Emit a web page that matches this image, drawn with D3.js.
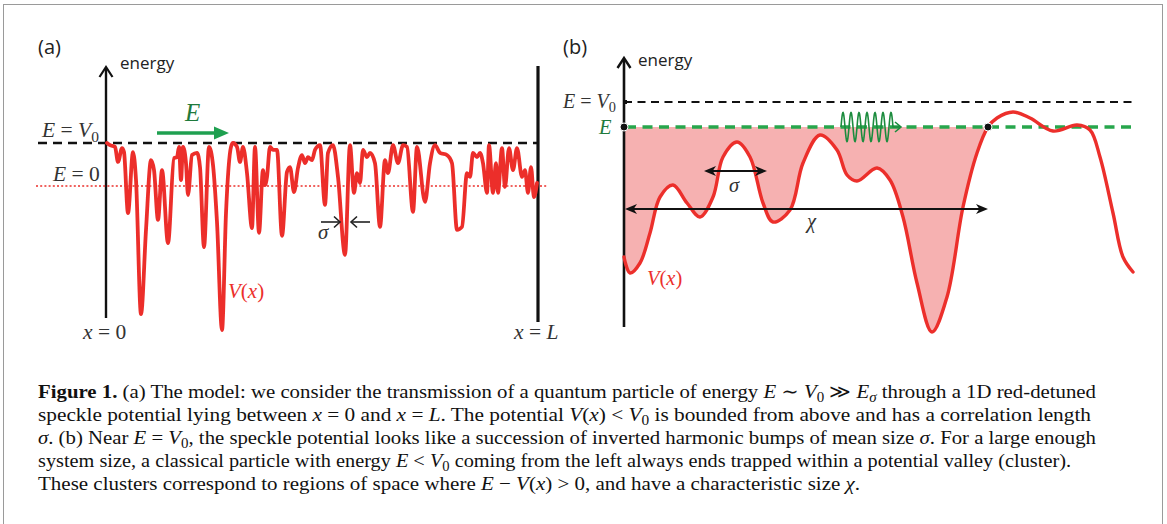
<!DOCTYPE html>
<html>
<head>
<meta charset="utf-8">
<script src="https://cdn.jsdelivr.net/npm/d3@7"></script>
<style>
  html, body { margin: 0; padding: 0; background: #fff; }
  svg { display: block; }
</style>
</head>
<body>
<svg id="fig" width="1167" height="524"></svg>
<script>
// ---- Panel (a): speckle potential V(x) between x = 0 and x = L (energy in units of V0) ----
const specklePos = [1, 4, 9, 12, 16, 18, 22, 27, 30, 35, 40, 45, 48, 52, 56, 62, 68, 71, 73, 75, 77, 80, 82, 86, 91, 94, 98,
  103, 107, 111, 116, 120, 125, 127, 131, 134, 137, 141, 146, 149, 153, 157, 159, 161, 164, 167, 171, 176, 181, 184, 188,
  192, 196, 199, 202, 206, 209, 214, 219, 222, 227, 232, 239, 244, 248, 251, 254, 257, 261, 264, 269, 274, 279, 282, 287,
  292, 297, 301, 307, 311, 319, 324, 329, 334, 341, 346, 351, 356, 361, 364, 367, 371, 374, 377, 381, 383, 387, 390, 392,
  396, 399, 403, 407, 411, 416, 419, 422, 425, 428, 431];
const speckleV = [1.0, 0.95, 0.91, 0.56, 0.88, 0.79, -0.63, 0.79, 0.14, -2.98, -1.02, 0.60, 0.37, -0.79, 0.37, -1.33, 0.65,
  0.67, 0.91, 0.14, 0.91, 0.53, -0.21, 0.72, 0.77, 0.44, -1.42, 0.91, 0.49, -0.84, -3.35, -0.63, 0.91, 1.0, 0.91, 0.56,
  0.91, 0.30, -0.98, 0.91, -1.09, 0.37, 0.02, 0.21, 0.91, 0.84, 0.84, -1.16, 0.33, 0.44, -0.14, 0.42, 0.72, 0.53, 0.67,
  0.60, 0.84, 0.95, -0.44, 0.77, 0.95, 0.21, -1.60, 0.95, -0.16, 0.30, 0.07, 0.84, 0.67, 0.77, 0.53, -0.95, 0.60, 0.30,
  0.95, 0.53, 0.95, 0.91, -0.60, 0.91, -0.37, 0.53, 0.95, 0.77, 0.72, 0.53, -1.02, -0.95, 0.30, 0.21, 0.77, 0.67, 0.77,
  0.53, -0.16, 0.95, -0.16, 0.53, -0.16, 0.88, -0.02, 0.88, 0.37, 0.88, 0.21, 0.37, -0.16, 0.44, -0.26, 0.07];
const systemLength = 432;          // x = L
const levelsA = { V0: 1, zero: 0 };

// ---- Panel (b): zoom near E = V0 (energy measured from E, V0 one unit above) ----
const zoomPos = [0, 6, 16, 26, 36, 49, 63, 76, 89, 99, 113, 126, 139, 149, 166, 179, 196, 213, 223, 233, 253, 266, 279,
  293, 308, 323, 339, 353, 364, 373, 389, 406, 429, 453, 466, 476, 489, 499, 509];
const zoomV = [-5.2, -5.84, -5.44, -4.24, -2.8, -2.32, -3.04, -3.6, -2.8, -1.2, -0.6, -1.2, -3.04, -3.8, -3.32, -1.44,
  -0.32, -0.92, -1.92, -2.16, -1.64, -2.12, -3.6, -6.24, -8.2, -6.8, -3.2, -1.04, 0, 0.36, 0.6, 0.36, -0.16, 0.08, -0.12,
  -1.2, -3.44, -5.2, -5.8];
const levelsB = { V0: 1, E: 0 };
const clusterEnd = 364;            // turning point where V(x) = E
const sigmaSpan = [80, 143];       // width of one bump
const panelBLength = 510;

// ---- Caption ----
const captionLines = [
  [["b", "Figure 1."], ["", " (a) The model: we consider the transmission of a quantum particle of energy "], ["i", "E"], ["", " ∼ "], ["i", "V"], ["sub", "0"], ["", " ≫ "], ["i", "E"], ["isub", "σ"], ["", " through a 1D red-detuned"]],
  [["", "speckle potential lying between "], ["i", "x"], ["", " = 0 and "], ["i", "x"], ["", " = "], ["i", "L"], ["", ". The potential "], ["i", "V"], ["", "("], ["i", "x"], ["", ") < "], ["i", "V"], ["sub", "0"], ["", " is bounded from above and has a correlation length"]],
  [["i", "σ"], ["", ". (b) Near "], ["i", "E"], ["", " = "], ["i", "V"], ["sub", "0"], ["", ", the speckle potential looks like a succession of inverted harmonic bumps of mean size "], ["i", "σ"], ["", ". For a large enough"]],
  [["", "system size, a classical particle with energy "], ["i", "E"], ["", " < "], ["i", "V"], ["sub", "0"], ["", " coming from the left always ends trapped within a potential valley (cluster)."]],
  [["", "These clusters correspond to regions of space where "], ["i", "E"], ["", " − "], ["i", "V"], ["", "("], ["i", "x"], ["", ") > 0, and have a characteristic size "], ["i", "χ"], ["", "."]]
];
const captionWidths = [1058, 1053, 1058, 1033, 822];

const svg = d3.select("#fig");
const RED = "#ec2f2b", GREEN = "#1fa050", DARK = "#111";
const SANS = "'Open Sans', 'Noto Sans', sans-serif";
const SERIF = "'Liberation Serif', 'DejaVu Serif', serif";

// frame
svg.append("rect").attr("x", 3.5).attr("y", 4.5).attr("width", 1159).attr("height", 560)
  .attr("fill", "none").attr("stroke", "#9a9a9a").attr("stroke-width", 1);

const defs = svg.append("defs");
defs.append("filter").attr("id", "soft").append("feGaussianBlur").attr("stdDeviation", 0.45);

// math-style label: parts of [style, text]
function mathLabel(g, x, y, parts, size, color) {
  const t = g.append("text").attr("x", x).attr("y", y).attr("font-family", SERIF)
    .attr("font-size", size).attr("fill", color);
  let shifted = 0;
  parts.forEach(([s, txt]) => {
    const ts = t.append("tspan").text(txt);
    if (s.includes("i")) ts.attr("font-style", "italic");
    if (s === "b") ts.attr("font-weight", "bold");
    if (s.includes("sub")) {
      ts.attr("font-size", size * 0.72).attr("dy", size * 0.22 - shifted);
      shifted = size * 0.22;
    } else if (shifted) {
      ts.attr("dy", -shifted);
      shifted = 0;
    }
  });
  return t;
}

function chevronUp(g, x, y, w, h, sw) {
  g.append("path").attr("d", `M${x - w},${y + h} L${x},${y} L${x + w},${y + h}`)
    .attr("fill", "none").attr("stroke", DARK).attr("stroke-width", sw).attr("stroke-linejoin", "miter");
}

// ================= Panel (a) =================
const gA = svg.append("g");
const xA = d3.scaleLinear().domain([0, systemLength]).range([106, 538]);
const yA = d3.scaleLinear().domain([0, 1]).range([186, 143]);

gA.append("text").attr("x", 38).attr("y", 54).attr("font-family", SANS).attr("font-size", 20).attr("fill", "#222").text("(a)");

// energy axis
gA.append("line").attr("x1", xA(0)).attr("x2", xA(0)).attr("y1", 318).attr("y2", 68)
  .attr("stroke", DARK).attr("stroke-width", 2.4);
chevronUp(gA, xA(0), 67, 6.5, 10, 2.2);
gA.append("text").attr("x", 120).attr("y", 69).attr("font-family", SANS).attr("font-size", 17).attr("fill", "#222").text("energy");

// right wall at x = L
gA.append("line").attr("x1", xA(systemLength)).attr("x2", xA(systemLength)).attr("y1", 66).attr("y2", 322)
  .attr("stroke", DARK).attr("stroke-width", 3.2);

// level lines
gA.append("line").attr("x1", 38).attr("x2", xA(systemLength)).attr("y1", yA(levelsA.V0)).attr("y2", yA(levelsA.V0))
  .attr("stroke", DARK).attr("stroke-width", 2.3).attr("stroke-dasharray", "9,6");
gA.append("line").attr("x1", 36).attr("x2", 547).attr("y1", yA(levelsA.zero)).attr("y2", yA(levelsA.zero))
  .attr("stroke", RED).attr("stroke-width", 1.6).attr("stroke-dasharray", "2,2.2");

// V(x)
const lineA = d3.line().x((d, i) => xA(specklePos[i])).y(d => yA(d)).curve(d3.curveMonotoneX);
gA.append("path").datum(speckleV).attr("d", lineA).attr("fill", "none").attr("stroke", RED)
  .attr("stroke-width", 3.8).attr("stroke-linejoin", "round").attr("stroke-linecap", "round")
  .attr("filter", "url(#soft)");

// incoming energy arrow
gA.append("line").attr("x1", 157).attr("x2", 218).attr("y1", 133).attr("y2", 133)
  .attr("stroke", GREEN).attr("stroke-width", 3.4);
gA.append("path").attr("d", "M229,133 L214,126.5 L214,139.5 Z").attr("fill", GREEN);
mathLabel(gA, 185, 121, [["i", "E"]], 25, "#1f7a3c");

// labels
mathLabel(gA, 42, 137, [["i", "E"], ["", " = "], ["i", "V"], ["sub", "0"]], 21.5, "#333");
mathLabel(gA, 53, 181, [["i", "E"], ["", " = "], ["", "0"]], 21.5, "#333");
mathLabel(gA, 83, 339, [["i", "x"], ["", " = "], ["", "0"]], 21.5, "#333");
mathLabel(gA, 514, 339, [["i", "x"], ["", " = "], ["i", "L"]], 21.5, "#333");
mathLabel(gA, 228, 298, [["i", "V"], ["", "("], ["i", "x"], ["", ")"]], 21, RED);

// sigma arrows (pointing inward)
const sA = gA.append("g").attr("stroke", "#222").attr("stroke-width", 1.6).attr("fill", "none");
sA.append("line").attr("x1", 321).attr("x2", 340).attr("y1", 222).attr("y2", 222);
sA.append("path").attr("d", "M334,216.5 L340,222 L334,227.5");
sA.append("line").attr("x1", 351).attr("x2", 370).attr("y1", 222).attr("y2", 222);
sA.append("path").attr("d", "M357,216.5 L351,222 L357,227.5");
mathLabel(gA, 318, 239, [["i", "σ"]], 21, "#333");

// ================= Panel (b) =================
const gB = svg.append("g");
const xB = d3.scaleLinear().domain([0, panelBLength]).range([624, 1134]);
const yB = d3.scaleLinear().domain([0, 1]).range([127, 102]);

gB.append("text").attr("x", 563).attr("y", 54).attr("font-family", SANS).attr("font-size", 20).attr("fill", "#222").text("(b)");

// trapped region between E and V(x)
const inCluster = zoomPos.map((p, i) => [p, zoomV[i]]).filter(d => d[0] <= clusterEnd);
gB.append("path").datum(inCluster)
  .attr("d", d3.area().x(d => xB(d[0])).y0(yB(levelsB.E)).y1(d => yB(d[1])).curve(d3.curveCatmullRom.alpha(0.5)))
  .attr("fill", "#f6b1b1");

// energy axis
gB.append("line").attr("x1", xB(0)).attr("x2", xB(0)).attr("y1", 327).attr("y2", 59)
  .attr("stroke", DARK).attr("stroke-width", 2.6);
chevronUp(gB, xB(0), 58, 6.5, 10, 2.4);
gB.append("text").attr("x", 638).attr("y", 66).attr("font-family", SANS).attr("font-size", 17).attr("fill", "#222").text("energy");

// V0 and E levels
gB.append("line").attr("x1", xB(0)).attr("x2", 1134).attr("y1", yB(levelsB.V0)).attr("y2", yB(levelsB.V0))
  .attr("stroke", DARK).attr("stroke-width", 2).attr("stroke-dasharray", "8,5.5");
gB.append("line").attr("x1", xB(0) + 2).attr("x2", 1132).attr("y1", yB(levelsB.E)).attr("y2", yB(levelsB.E))
  .attr("stroke", "#27a64c").attr("stroke-width", 3.6).attr("stroke-dasharray", "10,6.5");

// V(x)
const lineB = d3.line().x((d, i) => xB(zoomPos[i])).y(d => yB(d)).curve(d3.curveCatmullRom.alpha(0.5));
gB.append("path").datum(zoomV).attr("d", lineB).attr("fill", "none").attr("stroke", RED)
  .attr("stroke-width", 3.4).attr("stroke-linejoin", "round").attr("stroke-linecap", "round");

// wave packet travelling right along E
const wave = { x0: 841, x1: 893, cycles: 6.5, amp: 14.5 };
const wavePts = d3.range(0, 1.0001, 0.005).map(t => [wave.x0 + t * (wave.x1 - wave.x0),
  yB(levelsB.E) - wave.amp * Math.sin(2 * Math.PI * wave.cycles * t)]);
gB.append("path").attr("d", d3.line()(wavePts) + ` L900,${yB(levelsB.E)}`)
  .attr("fill", "none").attr("stroke", "#1c8c3e").attr("stroke-width", 1.6);
gB.append("path").attr("d", `M895,${yB(levelsB.E) - 5} L901,${yB(levelsB.E)} L895,${yB(levelsB.E) + 5}`)
  .attr("fill", "none").attr("stroke", "#1c8c3e").attr("stroke-width", 1.6);

// turning points
gB.append("circle").attr("cx", xB(0)).attr("cy", yB(levelsB.E)).attr("r", 4).attr("fill", DARK)
  .attr("stroke", "#fff").attr("stroke-width", 1);
gB.append("circle").attr("cx", xB(clusterEnd)).attr("cy", yB(levelsB.E)).attr("r", 4).attr("fill", DARK)
  .attr("stroke", "#fff").attr("stroke-width", 1);
gB.append("rect").attr("x", xB(0)).attr("y", yB(levelsB.V0) - 2).attr("width", 3).attr("height", 4).attr("fill", DARK);

// double arrows
function doubleArrow(g, xa, xb, y, sw, head) {
  g.append("line").attr("x1", xa + head * 0.6).attr("x2", xb - head * 0.6).attr("y1", y).attr("y2", y)
    .attr("stroke", DARK).attr("stroke-width", sw);
  g.append("path").attr("d", `M${xa},${y} L${xa + head},${y - head * 0.42} L${xa + head * 0.72},${y} L${xa + head},${y + head * 0.42} Z`).attr("fill", DARK);
  g.append("path").attr("d", `M${xb},${y} L${xb - head},${y - head * 0.42} L${xb - head * 0.72},${y} L${xb - head},${y + head * 0.42} Z`).attr("fill", DARK);
}
doubleArrow(gB, xB(sigmaSpan[0]), xB(sigmaSpan[1]), 171, 2, 12);
doubleArrow(gB, xB(0) + 1, xB(clusterEnd), 209, 2, 12);

// labels
mathLabel(gB, 563, 108, [["i", "E"], ["", " = "], ["i", "V"], ["sub", "0"]], 20, "#333");
mathLabel(gB, 599, 134, [["i", "E"]], 20.5, "#1f7a3c");
mathLabel(gB, 729, 192, [["i", "σ"]], 20.5, "#333");
mathLabel(gB, 807, 228, [["i", "χ"]], 20.5, "#333");
mathLabel(gB, 647, 285, [["i", "V"], ["", "("], ["i", "x"], ["", ")"]], 20.5, RED);

// ================= Caption =================
const capBase = [398, 421, 444, 467, 490];
captionLines.forEach((parts, k) => {
  const t = mathLabel(svg, 38, capBase[k], parts, 19, "#111");
  if (captionWidths[k]) t.attr("textLength", captionWidths[k]).attr("lengthAdjust", "spacingAndGlyphs");
});
</script>
</body>
</html>
